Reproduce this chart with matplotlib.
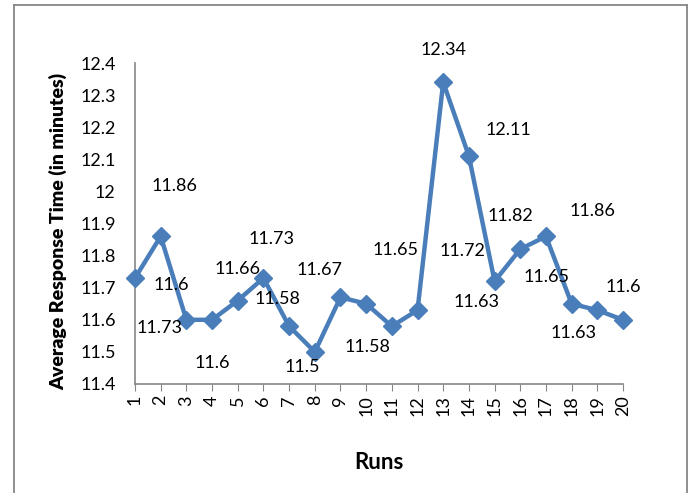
import matplotlib
matplotlib.use("Agg")
import matplotlib.pyplot as plt
from matplotlib.lines import Line2D

plt.rcParams["font.family"] = ["Lato", "DejaVu Sans"]

runs = list(range(1, 21))
response_time = [11.73, 11.86, 11.6, 11.6, 11.66, 11.73, 11.58, 11.5, 11.67, 11.65,
                 11.58, 11.63, 12.34, 12.11, 11.72, 11.82, 11.86, 11.65, 11.63, 11.6]
y_ticks = [11.4, 11.5, 11.6, 11.7, 11.8, 11.9, 12.0, 12.1, 12.2, 12.3, 12.4]
y_tick_labels = ["11.4", "11.5", "11.6", "11.7", "11.8", "11.9", "12", "12.1", "12.2", "12.3", "12.4"]

# where each data label sits relative to its point (pixels, y up)
label_offsets = [(25, -50), (14, 50), (-15, 35), (0, -43), (0, 32), (8, 39), (-12, 27),
                 (-13, -15), (-21, 27), (29, 54), (-24, -21), (59, 8), (0, 32), (39, 26),
                 (-32, 30), (-10, 33), (47, 25), (-25, 27), (-24, -23), (0, 33)]

W, H = 690, 493
fig = plt.figure(figsize=(W / 100, H / 100), dpi=100)
ax = fig.add_axes([135 / W, 1 - 384 / H, (623 - 135) / W, (384 - 63) / H])

blue = "#4a7ebb"
ax.plot(runs, response_time, color=blue, lw=3.2, marker="D", ms=9,
        markerfacecolor=blue, markeredgecolor=blue, clip_on=False, zorder=3)

for x, v, (dx, dy) in zip(runs, response_time, label_offsets):
    ax.annotate(f"{v:g}", (x, v), xytext=(dx, dy), textcoords="offset pixels",
                ha="center", va="center", fontsize=13, color="black")

ax.set_xlim(1, 20)
ax.set_ylim(11.4, 12.4)
ax.set_xticks(runs)
ax.set_xticklabels([str(r) for r in runs], rotation=90, fontsize=13)
ax.set_yticks(y_ticks)
ax.set_yticklabels(y_tick_labels, fontsize=13)

for side in ("top", "right"):
    ax.spines[side].set_visible(False)
for side in ("left", "bottom"):
    ax.spines[side].set_color("#868686")
    ax.spines[side].set_linewidth(1.2)
ax.tick_params(axis="x", direction="out", length=5, color="#868686", pad=3)
ax.tick_params(axis="y", length=0, pad=14)

ax.set_xlabel("Runs", fontsize=16, fontweight="bold", labelpad=26)
ax.set_ylabel("Average Response Time (in minutes)", fontsize=14, fontweight="heavy")
ax.yaxis.set_label_coords(-0.139, 0.474)

# outer chart frame
frame_kw = dict(color="#868686", lw=1.3, transform=fig.transFigure)
fig.add_artist(Line2D([14 / W, 14 / W], [0, 1 - 5 / H], **frame_kw))
fig.add_artist(Line2D([14 / W, 687 / W], [1 - 5 / H, 1 - 5 / H], **frame_kw))
fig.add_artist(Line2D([687 / W, 687 / W], [0, 1 - 5 / H], **frame_kw))

fig.savefig("out.png", dpi=100)
